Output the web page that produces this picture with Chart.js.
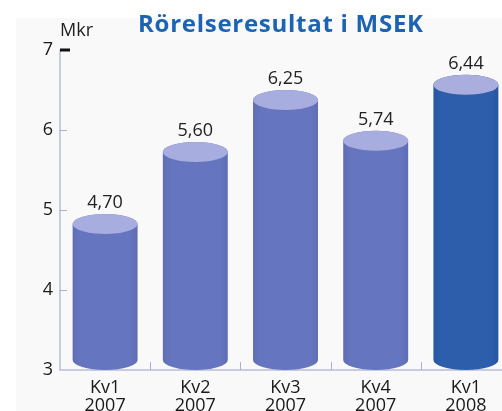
<!DOCTYPE html>
<html>
<head>
<meta charset="utf-8">
<script src="https://cdn.jsdelivr.net/npm/chart.js@4/dist/chart.umd.min.js"></script>
<style>
  html, body { margin: 0; padding: 0; background: #ffffff; overflow: hidden; }
  #wrap { width: 520px; height: 411px; position: relative; }
</style>
</head>
<body>
<div id="wrap"><canvas id="c" width="520" height="411"></canvas></div>
<script>
// ---- data ----
const categories = [['Kv1', '2007'], ['Kv2', '2007'], ['Kv3', '2007'], ['Kv4', '2007'], ['Kv1', '2008']];
const values = [4.70, 5.60, 6.25, 5.74, 6.44];
const yTicks = [3, 4, 5, 6, 7];
const titleText = 'Rörelseresultat i MSEK';
const unitText = 'Mkr';

// ---- styles ----
const bodyColors = ['#6675c0', '#6675c0', '#6675c0', '#6675c0', '#2c5eab'];
const topColors = ['#a8addf', '#a8addf', '#a8addf', '#a8addf', '#a9aedf'];
const FONT = '"Open Sans", "Noto Sans", sans-serif';
const RY = 10;

function shade(hex, f) {
  const n = parseInt(hex.slice(1), 16);
  const r = Math.round(((n >> 16) & 255) * f), g = Math.round(((n >> 8) & 255) * f), b = Math.round((n & 255) * f);
  return `rgb(${r},${g},${b})`;
}

const cylinderPlugin = {
  id: 'cylinders',
  beforeDraw(chart) {
    const ctx = chart.ctx;
    ctx.save();
    ctx.fillStyle = '#ffffff';
    ctx.fillRect(0, 0, chart.width, chart.height);
    ctx.fillStyle = '#f9f9f9';
    ctx.fillRect(16, 18, chart.width - 16, chart.height - 18);
    ctx.restore();
  },
  beforeDatasetsDraw(chart) {
    const ctx = chart.ctx;
    const xs = chart.scales.x, ys = chart.scales.y;
    const left = chart.chartArea.left, bottom = ys.getPixelForValue(yTicks[0]);
    const axisCol = '#b7bdd8';
    ctx.save();
    ctx.strokeStyle = axisCol;
    ctx.lineWidth = 1.5;
    ctx.beginPath();
    ctx.moveTo(left, ys.getPixelForValue(yTicks[yTicks.length - 1]));
    ctx.lineTo(left, bottom);
    ctx.lineTo(chart.width, bottom);
    ctx.stroke();
    yTicks.forEach((v, i) => {
      const py = ys.getPixelForValue(v);
      if (i === yTicks.length - 1) {
        ctx.strokeStyle = '#111111';
        ctx.lineWidth = 3;
        ctx.beginPath(); ctx.moveTo(left, py); ctx.lineTo(left + 10, py); ctx.stroke();
      } else if (i > 0) {
        ctx.strokeStyle = '#a9b0cc';
        ctx.lineWidth = 1;
        ctx.beginPath(); ctx.moveTo(left, Math.round(py) + 0.5); ctx.lineTo(left + 7, Math.round(py) + 0.5); ctx.stroke();
      }
    });
    ctx.strokeStyle = '#a9b0cc';
    ctx.lineWidth = 1;
    for (let i = 0; i < categories.length - 1; i++) {
      const px = Math.round((xs.getPixelForValue(i) + xs.getPixelForValue(i + 1)) / 2) + 0.5;
      ctx.beginPath(); ctx.moveTo(px, bottom - 8); ctx.lineTo(px, bottom); ctx.stroke();
    }
    // title (fit to reference width) and unit
    ctx.fillStyle = '#1c64b1';
    ctx.font = 'bold 24px "Open Sans", Lato, sans-serif';
    ctx.textAlign = 'left';
    ctx.textBaseline = 'alphabetic';
    const targetW = 285;
    const w0 = ctx.measureText(titleText).width;
    const ls = (targetW - w0) / (titleText.length - 1);
    ctx.letterSpacing = ls.toFixed(2) + 'px';
    ctx.fillText(titleText, 138, 32);
    ctx.letterSpacing = '0px';
    ctx.fillStyle = '#222222';
    ctx.font = '18px ' + FONT;
    ctx.fillText(unitText, 60, 36);
    ctx.restore();
  },
  afterDatasetsDraw(chart) {
    const ctx = chart.ctx;
    const meta = chart.getDatasetMeta(0);
    ctx.save();
    meta.data.forEach((bar, i) => {
      const p = bar.getProps(['x', 'y', 'base', 'width'], true);
      const w = p.width, rx = w / 2, x = p.x;
      const l = x - rx, r = x + rx;
      const topC = p.y - RY, botC = p.base - RY;
      const g = ctx.createLinearGradient(l, 0, r, 0);
      g.addColorStop(0, shade(bodyColors[i], 0.93));
      g.addColorStop(0.12, bodyColors[i]);
      g.addColorStop(0.88, bodyColors[i]);
      g.addColorStop(1, shade(bodyColors[i], 0.93));
      ctx.fillStyle = g;
      ctx.beginPath();
      ctx.moveTo(l, topC);
      ctx.lineTo(l, botC);
      ctx.ellipse(x, botC, rx, RY, 0, Math.PI, 0, true);
      ctx.lineTo(r, topC);
      ctx.ellipse(x, topC, rx, RY, 0, 0, Math.PI, true);
      ctx.closePath();
      ctx.fill();
      ctx.fillStyle = topColors[i];
      ctx.beginPath();
      ctx.ellipse(x, topC, rx, RY, 0, 0, Math.PI * 2);
      ctx.fill();
      ctx.fillStyle = '#222222';
      ctx.font = '18px ' + FONT;
      ctx.textAlign = 'center';
      ctx.textBaseline = 'alphabetic';
      ctx.fillText(values[i].toFixed(2).replace('.', ','), x, p.y - 26);
    });
    ctx.restore();
  }
};

new Chart(document.getElementById('c'), {
  type: 'bar',
  data: {
    labels: categories,
    datasets: [{
      data: values,
      base: yTicks[0],
      backgroundColor: 'rgba(0,0,0,0)',
      borderWidth: 0,
      barPercentage: 0.72,
      categoryPercentage: 1.0
    }]
  },
  options: {
    responsive: false,
    animation: false,
    devicePixelRatio: 1,
    layout: { padding: { top: 50, right: 9, left: 0, bottom: 0 } },
    plugins: { legend: { display: false }, tooltip: { enabled: false }, title: { display: false } },
    scales: {
      x: {
        grid: { display: false, drawTicks: false },
        border: { display: false },
        ticks: { color: '#1a1a1a', font: { family: FONT, size: 18, lineHeight: 1.05 }, padding: 8, maxRotation: 0, autoSkip: false },
        afterFit(s) { s.height = 41; }
      },
      y: {
        min: 3, max: 7,
        grid: { display: false, drawTicks: false },
        border: { display: false },
        afterBuildTicks(s) { s.ticks = yTicks.map(v => ({ value: v })); },
        ticks: { color: '#1a1a1a', font: { family: FONT, size: 18 }, padding: 7 },
        afterFit(s) { s.width = 60; }
      }
    }
  },
  plugins: [cylinderPlugin]
});
</script>
</body>
</html>
